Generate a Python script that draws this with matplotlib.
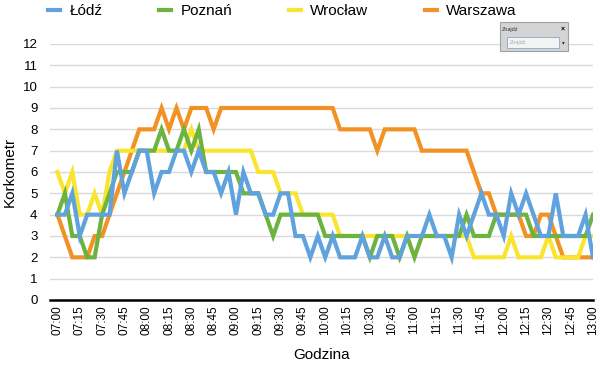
import matplotlib.pyplot as plt
from matplotlib.patches import Rectangle

plt.rcParams['font.family'] = ['Liberation Sans', 'DejaVu Sans']

# pomiary co 5 minut, 07:00 - 13:00
godziny = ['%02d:%02d' % (7 + m // 60, m % 60) for m in range(0, 361, 5)]
etykiety = godziny[::3]

lodz = [4, 4, 5, 3, 4, 4, 4, 4, 7, 5, 6, 7, 7, 5, 6, 6, 7, 7, 6, 7, 6, 6, 5, 6, 4,
        6, 5, 5, 4, 4, 5, 5, 3, 3, 2, 3, 2, 3, 2, 2, 2, 3, 2, 2, 3, 2, 2, 3, 3, 3,
        4, 3, 3, 2, 4, 3, 4, 5, 4, 4, 3, 5, 4, 5, 4, 3, 3, 5, 3, 3, 3, 4, 2]
poznan = [4, 5, 3, 3, 2, 2, 4, 5, 6, 6, 6, 7, 7, 7, 8, 7, 7, 8, 7, 8, 6, 6, 6, 6, 6,
          5, 5, 5, 4, 3, 4, 4, 4, 4, 4, 4, 3, 3, 3, 3, 3, 3, 2, 3, 3, 3, 2, 3, 2, 3,
          3, 3, 3, 3, 3, 4, 3, 3, 3, 4, 4, 4, 4, 4, 3, 3, 3, 3, 3, 3, 3, 3, 4]
wroclaw = [6, 5, 6, 4, 4, 5, 4, 6, 7, 7, 7, 7, 7, 7, 7, 7, 7, 7, 8, 7, 7, 7, 7, 7, 7,
           7, 7, 6, 6, 6, 5, 5, 5, 4, 4, 4, 4, 4, 3, 3, 3, 3, 3, 3, 3, 3, 3, 3, 3, 3,
           3, 3, 3, 3, 3, 3, 2, 2, 2, 2, 2, 3, 2, 2, 2, 2, 3, 2, 2, 2, 2, 3, 3]
warszawa = [4, 3, 2, 2, 2, 3, 3, 4, 5, 6, 7, 8, 8, 8, 9, 8, 9, 8, 9, 9, 9, 8, 9, 9, 9,
            9, 9, 9, 9, 9, 9, 9, 9, 9, 9, 9, 9, 9, 8, 8, 8, 8, 8, 7, 8, 8, 8, 8, 8, 7,
            7, 7, 7, 7, 7, 7, 6, 5, 5, 4, 4, 4, 4, 3, 3, 4, 4, 3, 2, 2, 2, 2, 2]

serie = [('Łódź', lodz, '#5fa2dd'), ('Poznań', poznan, '#6db33f'),
         ('Wrocław', wroclaw, '#f9e530'), ('Warszawa', warszawa, '#f39224')]

fig = plt.figure(figsize=(6, 3.7), dpi=100)
ax = fig.add_axes([50/600, 1 - 300/370, 543/600, 256/370])

x = list(range(len(godziny)))
linie = []
for i, (nazwa, dane, kolor) in enumerate(serie):
    l, = ax.plot(x, dane, color=kolor, lw=3, label=nazwa, zorder=10 - i,
                 solid_joinstyle='miter')
    linie.append(l)

ax.set_xlim(-1, 72)
ax.set_ylim(0, 12)
ax.set_yticks(range(13))
ax.set_xticks(x[::3])
ax.set_xticklabels(etykiety, rotation=90, fontsize=8.5)
ax.tick_params(axis='y', labelsize=9.5, length=0, pad=9)
ax.tick_params(axis='x', length=0, pad=4)
ax.grid(axis='y', color='#d9d9d9', lw=1)
ax.set_axisbelow(True)
for s in ['left', 'right', 'top']:
    ax.spines[s].set_visible(False)
ax.spines['bottom'].set_linewidth(1.8)
ax.spines['bottom'].set_zorder(20)

ax.set_ylabel('Korkometr', fontsize=11)
ax.yaxis.set_label_coords(-33/543, 0.5)
ax.set_xlabel('Godzina', fontsize=11, labelpad=9)

fig.legend(handles=linie, loc='center left', bbox_to_anchor=(48/600, 1 - 11/370),
           ncol=4, frameon=False, fontsize=11, handlelength=0.8,
           handletextpad=0.6, columnspacing=3.7, borderpad=0, borderaxespad=0)

# okienko "Znajdź"
fig.patches.append(Rectangle((500/600, 1 - 51/370), 68/600, 29/370,
                             transform=fig.transFigure, fc='#d4d4d4', ec='#a0a0a0', lw=0.8))
fig.patches.append(Rectangle((507/600, 1 - 48/370), 52/600, 11/370,
                             transform=fig.transFigure, fc='#f4f4f4', ec='#8aa6c8', lw=0.6))
fig.text(502/600, 1 - 29/370, 'Znajdź', fontsize=4, va='center', color='#333333')
fig.text(565/600, 1 - 29/370, '×', fontsize=5, va='center', ha='right', fontweight='bold')
fig.text(510/600, 1 - 42.5/370, 'Znajdź', fontsize=4, va='center', color='#aaaaaa')
fig.text(562/600, 1 - 42.5/370, '▾', fontsize=4, va='center', color='#333333')

fig.savefig('out.png', dpi=100)
